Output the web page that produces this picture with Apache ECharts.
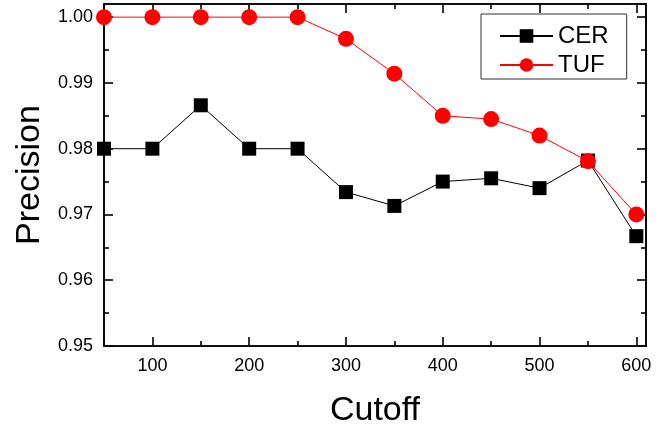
<!DOCTYPE html>
<html><head><meta charset="utf-8">
<script src="https://cdn.jsdelivr.net/npm/echarts@6/dist/echarts.min.js"></script>
<style>html,body{margin:0;padding:0;background:#fff}#c{width:669px;height:426px}</style>
</head><body><div id="c"></div>
<script>
const cutoffs = [50, 100, 150, 200, 250, 300, 350, 400, 450, 500, 550, 600];
const cer = [0.980, 0.980, 0.9866, 0.980, 0.980, 0.9734, 0.9713, 0.9750, 0.9755, 0.9740, 0.9782, 0.9667];
const tuf = [1.000, 1.000, 1.000, 1.000, 1.000, 0.9967, 0.9914, 0.9850, 0.9845, 0.9820, 0.9781, 0.9700];
const xMajor = [100, 200, 300, 400, 500, 600];
const xMinor = [50, 150, 250, 350, 450, 550];
const yMajor = [0.95, 0.96, 0.97, 0.98, 0.99, 1.00];
const yMinor = [0.955, 0.965, 0.975, 0.985, 0.995];

const FONT = 'Arial, "Liberation Sans", sans-serif';
const X_MIN = 50, X_MAX = 610, Y_MIN = 0.95, Y_MAX = 1.002;
const lineStyle = {color: '#000', width: 1.6};

function xAx(pos, ticks, len, labels, extra) {
  return Object.assign({
    type: 'value', position: pos, min: X_MIN, max: X_MAX,
    axisLine: {show: true, onZero: false, lineStyle},
    axisTick: {show: true, inside: true, length: len, customValues: ticks, lineStyle},
    axisLabel: labels ? {show: true, customValues: xMajor, color: '#000', fontSize: 18, fontFamily: FONT, margin: 11} : {show: false},
    splitLine: {show: false}
  }, extra || {});
}
function yAx(pos, ticks, len, labels, extra) {
  return Object.assign({
    type: 'value', position: pos, min: Y_MIN, max: Y_MAX,
    axisLine: {show: true, onZero: false, lineStyle},
    axisTick: {show: true, inside: true, length: len, customValues: ticks, lineStyle},
    axisLabel: labels ? {show: true, customValues: yMajor, color: '#000', fontSize: 18, fontFamily: FONT, margin: 11, formatter: v => v.toFixed(2)} : {show: false},
    splitLine: {show: false}
  }, extra || {});
}

const chart = echarts.init(document.getElementById('c'), null, {renderer: 'canvas'});
chart.setOption({
  animation: false,
  backgroundColor: '#fff',
  grid: {left: 104, top: 4, right: 23, bottom: 80, containLabel: false, outerBoundsMode: 'none'},
  xAxis: [
    xAx('bottom', xMajor, 9, true, {name: 'Cutoff', nameLocation: 'middle', nameGap: 48,
      nameTextStyle: {fontSize: 34, fontFamily: FONT, color: '#000'}}),
    xAx('bottom', xMinor, 5, false),
    xAx('top', xMajor, 9, false),
    xAx('top', xMinor, 5, false)
  ],
  yAxis: [
    yAx('left', yMajor, 9, true, {name: 'Precision', nameLocation: 'middle', nameGap: 56, nameRotate: 90,
      nameTextStyle: {fontSize: 34, fontFamily: FONT, color: '#000'}}),
    yAx('left', yMinor, 5, false),
    yAx('right', yMajor, 9, false),
    yAx('right', yMinor, 5, false)
  ],
  legend: {
    show: true, orient: 'vertical', left: 481, top: 14,
    padding: [10, 18, 2, 18], itemGap: 5, itemWidth: 53, itemHeight: 17,
    borderColor: '#333', borderWidth: 1, backgroundColor: '#fff',
    textStyle: {fontSize: 24, fontFamily: FONT, color: '#000', lineHeight: 24},
    data: ['CER', 'TUF']
  },
  series: [
    {name: 'CER', type: 'line', xAxisIndex: 0, yAxisIndex: 0,
      data: cutoffs.map((c, i) => [c, cer[i]]),
      symbol: 'rect', symbolSize: 14,
      itemStyle: {color: '#000'}, lineStyle: {color: '#000', width: 1}, z: 3},
    {name: 'TUF', type: 'line', xAxisIndex: 0, yAxisIndex: 0,
      data: cutoffs.map((c, i) => [c, tuf[i]]),
      symbol: 'circle', symbolSize: 16,
      itemStyle: {color: '#ff0000'}, lineStyle: {color: '#ff0000', width: 1}, z: 4}
  ]
});
</script></body></html>
